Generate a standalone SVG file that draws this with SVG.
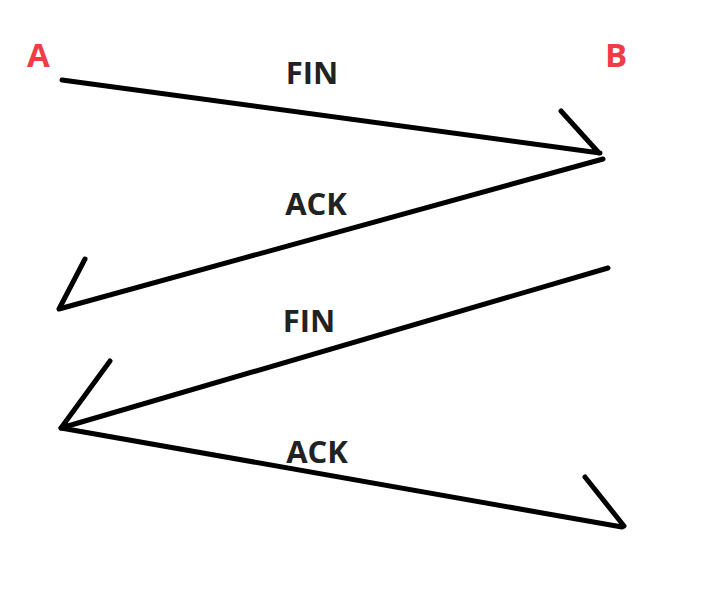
<svg xmlns="http://www.w3.org/2000/svg" width="714" height="615" viewBox="0 0 714 615">
<style>
.node{font-family:"Open Sans","Noto Sans",sans-serif;font-weight:bold;font-size:33px;fill:#ef3c46}
.lbl{font-family:"Open Sans","Noto Sans",sans-serif;font-weight:bold;font-size:31px;fill:#222222;text-anchor:middle}
.ln{stroke:#000;stroke-width:5;stroke-linecap:round;stroke-linejoin:round;fill:none}
</style>
<rect width="714" height="615" fill="#ffffff"/>
<g id="node-A"><text class="node" x="27" y="67">A</text></g>
<g id="node-B"><text class="node" x="605" y="67">B</text></g>
<g id="connectors">
<g id="msg1"><path class="ln" d="M62 80 L600 153 M561 111 L599 153"/><text class="lbl" x="312" y="84">FIN</text></g>
<g id="msg2"><path class="ln" d="M603 159 L59 309 L85 259"/><text class="lbl" x="316" y="215">ACK</text></g>
<g id="msg3"><path class="ln" d="M608 268 L61 428 L110 361"/><text class="lbl" x="309" y="332">FIN</text></g>
<g id="msg4"><path class="ln" d="M61 428 L622 527 M585 477 L624 526"/><text class="lbl" x="317" y="463">ACK</text></g>
</g>
</svg>
